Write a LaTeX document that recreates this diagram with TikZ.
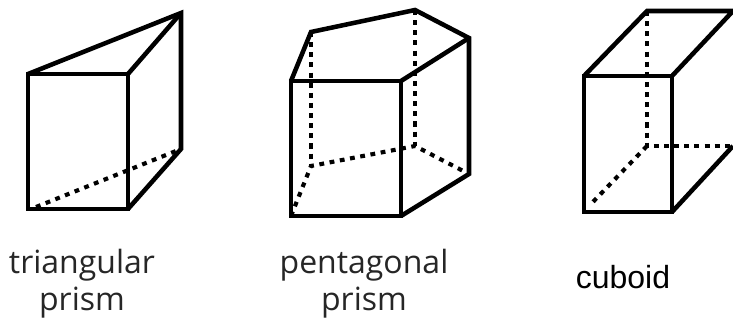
\documentclass[tikz,border=0pt]{standalone}
\usepackage{fontspec}
\setmainfont{Open Sans}
\newfontfamily\arialfont{Liberation Sans}
\tikzset{
  solidedge/.style={line width=3.4pt,line join=miter,black},
  hidden/.style={line width=3.4pt,black,dash pattern=on 3.8pt off 3.8pt},
  hiddenfine/.style={line width=3.1pt,black,dash pattern=on 3.6pt off 4.2pt},
  openlabel/.style={font=\fontsize{24}{27.5}\selectfont,color=black!85,align=center,inner sep=0pt},
  caplabel/.style={font=\arialfont\fontsize{24}{28}\selectfont,color=black,inner sep=0pt},
}
\begin{document}
\begin{tikzpicture}[x=0.75pt,y=-0.75pt]
\useasboundingbox (0,0) rectangle (733,320);
% triangular prism
\coordinate (ta) at (28,74);
\coordinate (tb) at (128,74);
\coordinate (tc) at (181,13);
\coordinate (td) at (181,149);
\coordinate (te) at (128,209);
\coordinate (tf) at (28,209);
\coordinate (tfs) at (36,207);
\draw[hiddenfine] (tfs) -- (td);
\draw[solidedge] (ta) -- (tb) -- (te) -- (tf) -- cycle;
\draw[solidedge] (ta) -- (tc) -- (td) -- (te);
\draw[solidedge] (tb) -- (tc);
% pentagonal prism
\coordinate (pa) at (291,81);
\coordinate (pb) at (401,81);
\coordinate (pc) at (401,216);
\coordinate (pd) at (291,216);
\coordinate (pe) at (311,32);
\coordinate (pf) at (415,10);
\coordinate (pg) at (469,38);
\coordinate (ph) at (469,174);
\coordinate (pi) at (415,146);
\coordinate (pj) at (311,166);
\draw[hidden] (pe) -- (pj);
\draw[hidden] (pf) -- (pi);
\draw[hiddenfine] (pd) -- (pj) -- (pi) -- (ph);
\draw[solidedge] (pa) -- (pb) -- (pc) -- (pd) -- cycle;
\draw[solidedge] (pa) -- (pe) -- (pf) -- (pg) -- (ph) -- (pc);
\draw[solidedge] (pb) -- (pg);
% cuboid
\coordinate (ca) at (584,76);
\coordinate (cb) at (672,76);
\coordinate (cc) at (672,212);
\coordinate (cd) at (584,212);
\coordinate (ce) at (647,11);
\coordinate (cf) at (733,11);
\coordinate (cg) at (733,146);
\coordinate (ch) at (647,146);
\coordinate (cds) at (590,205);
\draw[hidden] (ce) -- (ch) -- (cg);
\draw[hiddenfine] (ch) -- (cds);
\draw[solidedge] (ca) -- (cb) -- (cc) -- (cd) -- cycle;
\draw[solidedge] (ca) -- (ce) -- (cf) -- (cb);
\draw[solidedge] (cc) -- (cg);
% labels
\node[openlabel] (tl) at (82,284) {triangular\\prism};
\node[openlabel] (pl) at (364,284) {pentagonal\\prism};
\node[caplabel] (cl) at (623,277) {cuboid};
\end{tikzpicture}
\end{document}
